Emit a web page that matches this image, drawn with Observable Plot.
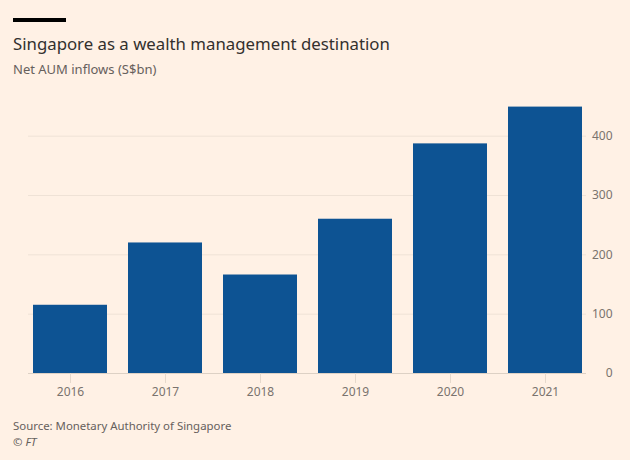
<!DOCTYPE html>
<html>
<head>
<meta charset="utf-8">
<script src="https://cdn.jsdelivr.net/npm/d3@7"></script>
<script src="https://cdn.jsdelivr.net/npm/@observablehq/plot@0.6"></script>
<style>
  html, body { margin: 0; padding: 0; background: #fff1e5; }
  #wrap { position: relative; width: 630px; height: 460px; background: #fff1e5; font-family: "Noto Sans", sans-serif; overflow: hidden; }
  #bar { position: absolute; left: 13px; top: 18px; width: 53px; height: 4px; background: #000; }
  #title { position: absolute; left: 13px; top: 32px; font-size: 16.8px; color: #33302e; white-space: nowrap; }
  #subtitle { position: absolute; left: 13px; top: 60px; font-size: 13px; color: #66605c; white-space: nowrap; }
  #chart { position: absolute; left: 0; top: 85px; }
  #source { position: absolute; left: 13px; top: 418px; font-size: 11.4px; color: #66605c; white-space: nowrap; }
  #ft { position: absolute; left: 13px; top: 434px; font-size: 11.4px; color: #66605c; font-style: italic; }
</style>
</head>
<body>
<div id="wrap">
  <div id="bar"></div>
  <div id="title">Singapore as a wealth management destination</div>
  <div id="subtitle">Net AUM inflows (S$bn)</div>
  <div id="chart"></div>
  <div id="source">Source: Monetary Authority of Singapore</div>
  <div id="ft">© FT</div>
</div>
<script>
const years = ["2016", "2017", "2018", "2019", "2020", "2021"];
const inflows = [115, 220, 166, 260, 387, 449];
const yTicks = [0, 100, 200, 300, 400];

const data = years.map((y, i) => ({year: y, value: inflows[i]}));

const chart = Plot.plot({
  width: 630,
  height: 330,
  marginLeft: 28,
  marginRight: 44,
  marginTop: 21,
  marginBottom: 42,
  style: {background: "transparent", fontFamily: "Noto Sans, sans-serif", fontSize: "12px", color: "#7a736e"},
  x: {domain: years, paddingInner: 0.225, paddingOuter: 0.034, label: null},
  y: {domain: [0, 450], label: null},
  marks: [
    Plot.ruleY(yTicks.filter(d => d > 0), {stroke: "#efe2d6", strokeWidth: 1}),
    Plot.barY(data, {x: "year", y: "value", fill: "#0d5393"}),
    Plot.ruleY([0], {stroke: "#ddd1c5", strokeWidth: 1}),
    Plot.axisX({tickSize: 10, tickPadding: 4, stroke: "#e6d9cc", fill: "#7a736e", fontSize: 12}),
    Plot.axisY({anchor: "right", ticks: yTicks, tickSize: 0, tickPadding: 26, textAnchor: "end", fill: "#7a736e", fontSize: 12})
  ]
});
document.getElementById("chart").appendChild(chart);
</script>
</body>
</html>
